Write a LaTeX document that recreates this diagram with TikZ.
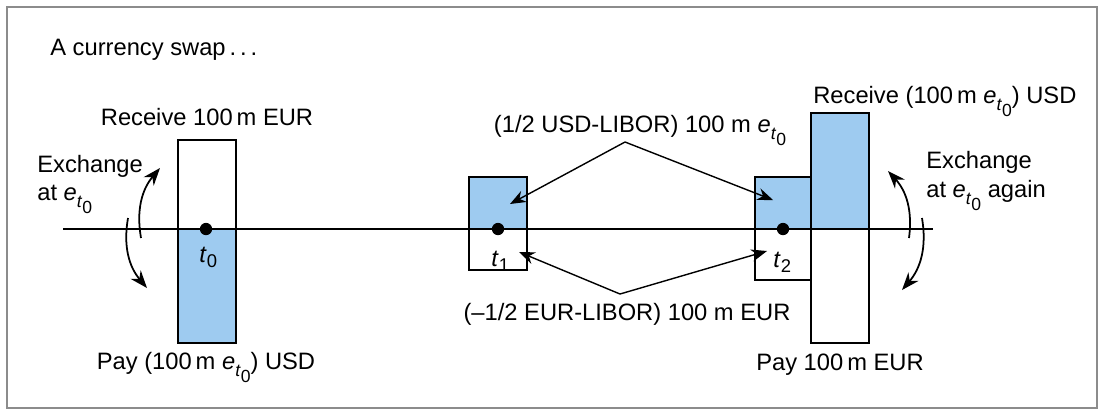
\documentclass[tikz,border=0pt]{standalone}
\usepackage{fontspec}
\setmainfont{Liberation Sans}
\usetikzlibrary{arrows.meta, positioning, calc}
\definecolor{swapblue}{RGB}{158,203,240}
\tikzset{
  marco/.style={draw=black!45, line width=0.8pt},
  flujo/.style={draw=black, line width=1.1pt},
  pago/.style={flujo, fill=swapblue},
  etiqueta/.style={font=\fontsize{13.5}{16}\selectfont, inner sep=0pt},
  flecha/.style={line width=0.8pt, -{Stealth[length=9pt, width=7pt]}},
  curva/.style={line width=1pt, -{Stealth[length=10pt, width=7.5pt]}},
  punto/.style={circle, fill=black, inner sep=0pt, minimum size=7pt}
}
\newcommand{\subi}[1]{\raisebox{-3pt}{\fontsize{10.5}{12}\selectfont #1}}
\newcommand{\etz}{\textit{e}\raisebox{-4pt}{\fontsize{10}{12}\selectfont\textit{t}\raisebox{-3.5pt}{0}}}

\begin{document}
\begin{tikzpicture}[x=0.02cm, y=-0.02cm]
    \useasboundingbox (0,0) rectangle (1101,417);
    % Marco exterior
    \draw[marco] (7,7) rectangle (1097,408);
    \node (titulo) [etiqueta, anchor=base west] at (50,55) {A currency swap\,.\,.\,.};

    % Intercambio inicial en t0
    \draw[flujo] (178,140) rectangle (236,229);
    \draw[pago] (178,229) rectangle (236,343);
    % Pagos de intereses en t1 y t2
    \draw[pago] (469,177) rectangle (527,229);
    \draw[flujo] (469,229) rectangle (527,270);
    \draw[pago] (755,177) rectangle (811,229);
    \draw[flujo] (755,229) rectangle (811,280);
    % Intercambio final
    \draw[pago] (811,113) rectangle (869,229);
    \draw[flujo] (811,229) rectangle (869,343);

    % Eje temporal con las fechas
    \draw[flujo] (63,229) -- (933,229);
    \node (t0) [punto] at (206,229) {};
    \node (t1) [punto] at (498,229) {};
    \node (t2) [punto] at (783,229) {};
    \node (lt0) [etiqueta, anchor=base west] at (199,262) {\textit{t}\subi{0}};
    \node (lt1) [etiqueta, anchor=base west] at (491,266) {\textit{t}\subi{1}};
    \node (lt2) [etiqueta, anchor=base west] at (773,267) {\textit{t}\subi{2}};

    % Textos de los flujos
    \node (recibeA) [etiqueta, anchor=base] at (207,125) {Receive 100\,m EUR};
    \node (pagaA) [etiqueta, anchor=base] at (206,369) {Pay (100\,m \etz) USD};
    \node (recibeB) [etiqueta, anchor=base west] at (813,103) {Receive (100\,m \etz) USD};
    \node (pagaB) [etiqueta, anchor=base] at (840,370) {Pay 100\,m EUR};
    \node (usd) [etiqueta, anchor=base] at (640,132) {(1/2 USD-LIBOR) 100 m \etz};
    \node (eur) [etiqueta, anchor=base] at (627,320) {(--1/2 EUR-LIBOR) 100 m EUR};
    \node (izqA) [etiqueta, anchor=base west] at (37,172) {Exchange};
    \node (izqB) [etiqueta, anchor=base west] at (37,200) {at \etz};
    \node (derA) [etiqueta, anchor=base west] at (926,168) {Exchange};
    \node (derB) [etiqueta, anchor=base west] at (926,197) {at \etz\ again};

    % Flechas de los intereses
    \coordinate (vUsd) at (625,142);
    \coordinate (vEur) at (620,294);
    \coordinate (usd1) at (510,204);
    \coordinate (usd2) at (773,200);
    \coordinate (eur1) at (519,252);
    \coordinate (eur2) at (767,251);
    \draw[flecha] (vUsd) -- (usd1);
    \draw[flecha] (vUsd) -- (usd2);
    \draw[flecha] (vEur) -- (eur1);
    \draw[flecha] (vEur) -- (eur2);

    % Flechas curvas del tipo de cambio
    \coordinate (a1) at (141,238);
    \coordinate (a2) at (160,168);
    \coordinate (a3) at (128,218);
    \coordinate (a4) at (147,288);
    \coordinate (b1) at (909,238);
    \coordinate (b2) at (888,171);
    \coordinate (b3) at (922,218);
    \coordinate (b4) at (902,290);
    \draw[curva] (a1) to[bend left=25] (a2);
    \draw[curva] (a3) to[bend right=25] (a4);
    \draw[curva] (b1) to[bend right=25] (b2);
    \draw[curva] (b3) to[bend left=25] (b4);
\end{tikzpicture}
\end{document}
